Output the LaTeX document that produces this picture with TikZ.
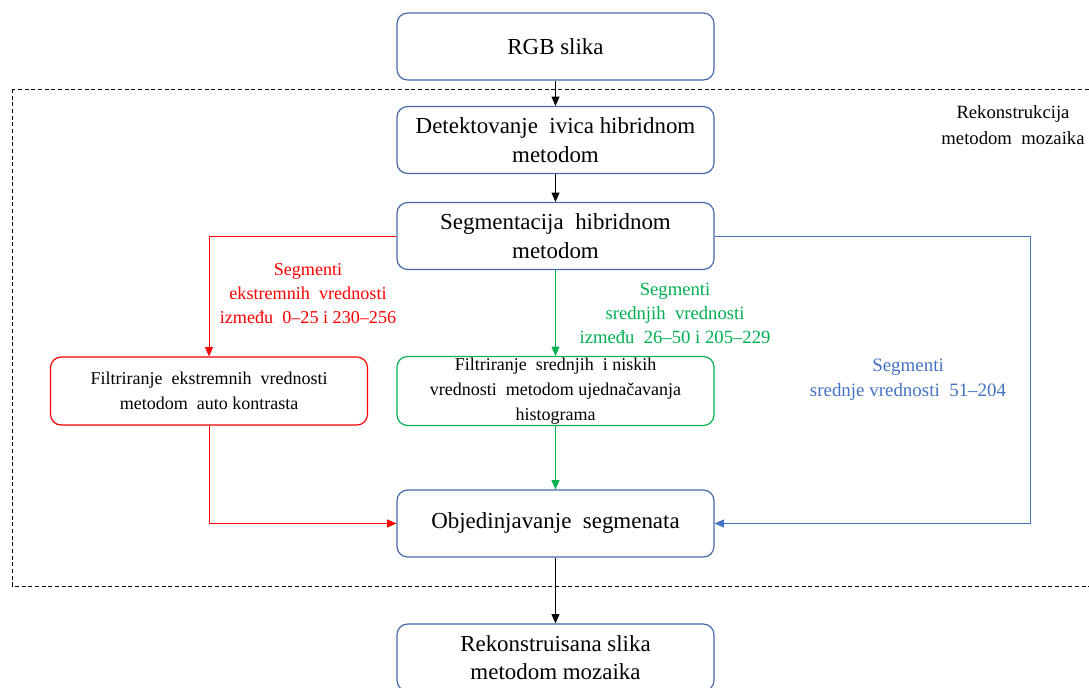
\documentclass[tikz,border=0pt]{standalone}
\usepackage{fontspec}
\setmainfont{Liberation Serif}
\usetikzlibrary{arrows.meta}
\definecolor{boxblue}{RGB}{70,105,170}
\definecolor{lblue}{RGB}{68,114,196}
\definecolor{lgreen}{RGB}{0,176,80}
\definecolor{lred}{RGB}{255,0,0}
\begin{document}
\begin{tikzpicture}[x=0.75pt,y=-0.75pt,
  bigbox/.style={draw=boxblue, line width=0.9pt, rounded corners=8pt, minimum width=237.75pt, minimum height=50.25pt, inner sep=1pt, align=center, font=\fontsize{17.2}{21.5}\selectfont},
  smallbox/.style={line width=0.9pt, rounded corners=8pt, minimum width=237.75pt, minimum height=51pt, inner sep=1pt, align=center, font=\fontsize{13.5}{18.75}\selectfont},
  lbl/.style={align=center, inner sep=0pt},
  arr/.style={-{Triangle[length=7pt,width=6pt]}, line width=0.7pt}]
\useasboundingbox (0,0) rectangle (1089,688);
\draw[dashed, dash pattern=on 3pt off 2pt, line width=0.6pt] (12,89) rectangle (1100,586);
\node[bigbox] (rgb) at (555.5,46.5) {RGB slika};
\node[bigbox] (det) at (555.5,140) {Detektovanje\ \ ivica hibridnom\\metodom};
\node[bigbox] (seg) at (555.5,236) {Segmentacija\ \ hibridnom\\metodom};
\node[smallbox, draw=lred] (red) at (209,391) {Filtriranje\ \ ekstremnih\ \ vrednosti\\metodom\ \ auto kontrasta};
\node[smallbox, draw=lgreen] (grn) at (555.5,391) {Filtriranje\ \ srednjih\ \ i niskih\\vrednosti\ \ metodom ujednačavanja\\histograma};
\node[bigbox] (obj) at (555.5,523.5) {Objedinjavanje\ \ segmenata};
\node[bigbox] (rek) at (555.5,657.5) {Rekonstruisana slika\\metodom mozaika};
\node[lbl, font=\fontsize{13.6}{18}\selectfont] (lr) at (308,294) {\color{lred}Segmenti\\\color{lred}ekstremnih\ \ vrednosti\\\color{lred}između\ \ 0–25 i 230–256};
\node[lbl, font=\fontsize{14}{18}\selectfont] (lg) at (675,313) {\color{lgreen}Segmenti\\\color{lgreen}srednjih\ \ vrednosti\\\color{lgreen}između\ \ 26–50 i 205–229};
\node[lbl, font=\fontsize{14.2}{19}\selectfont] (lb) at (908,380) {\color{lblue}Segmenti\\\color{lblue}srednje vrednosti\ \ 51–204};
\node[lbl, font=\fontsize{14}{19.5}\selectfont] (title) at (1013,125) {Rekonstrukcija\\metodom\ \ mozaika};
\coordinate (bR) at (1030,236);
\draw[arr] (rgb) -- (det);
\draw[arr] (det) -- (seg);
\draw[arr, lgreen] (seg) -- (grn);
\draw[arr, lgreen] (grn) -- (obj);
\draw[arr] (obj) -- (rek);
\draw[arr, lred] (seg.west) -| (red.north);
\draw[arr, lred] (red.south) |- (obj.west);
\draw[arr, lblue] (seg.east) -- (bR) |- (obj.east);
\end{tikzpicture}
\end{document}
